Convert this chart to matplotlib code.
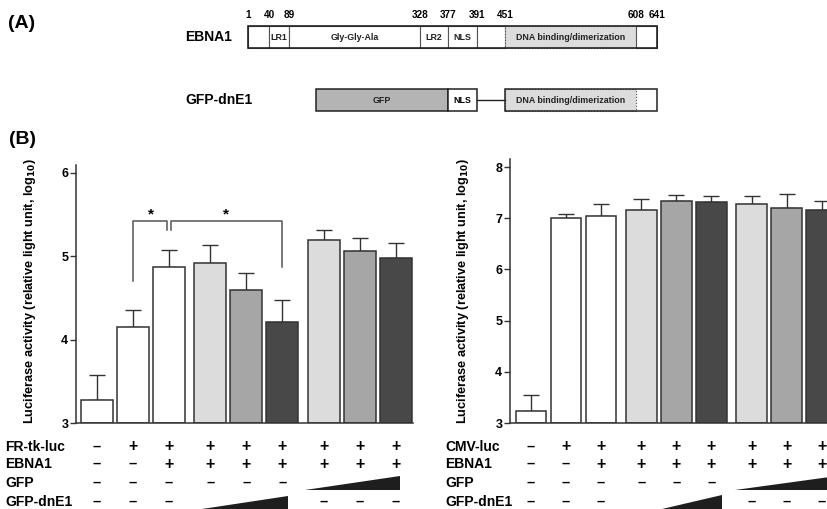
import matplotlib
matplotlib.use("Agg")
import matplotlib.pyplot as plt
import matplotlib.transforms as mtransforms
from matplotlib.patches import Rectangle, Polygon

plt.rcParams['font.family'] = ['Liberation Sans', 'DejaVu Sans']
plt.rcParams['font.weight'] = 'bold'

# ---------------- data ----------------
ebna1_bounds = [1, 40, 89, 328, 377, 391, 451, 608, 641]
ebna1_domains = ["", "LR1", "Gly-Gly-Ala", "LR2", "NLS", "", "DNA binding/dimerization", ""]
# schematic (not to scale) x-positions of the domain boundaries, in pixels
ebna1_draw_x = [248, 269, 289, 420, 448, 477, 505, 636, 657]
dne1_gfp_start_x = 316

left_values = [3.27, 4.15, 4.87, 4.92, 4.60, 4.21, 5.19, 5.06, 4.98]
left_errors = [0.30, 0.21, 0.20, 0.21, 0.20, 0.26, 0.13, 0.16, 0.18]
right_values = [3.24, 7.00, 7.05, 7.16, 7.34, 7.31, 7.28, 7.21, 7.16]
right_errors = [0.31, 0.08, 0.22, 0.21, 0.11, 0.12, 0.15, 0.26, 0.18]

row_names_left = ["FR-tk-luc", "EBNA1", "GFP", "GFP-dnE1"]
row_names_right = ["CMV-luc", "EBNA1", "GFP", "GFP-dnE1"]
reporter = ["-", "+", "+", "+", "+", "+", "+", "+", "+"]
ebna1 = ["-", "-", "+", "+", "+", "+", "+", "+", "+"]
gfp = ["-", "-", "-", "-", "-", "-", "w", "w", "w"]
gfp_dne1 = ["-", "-", "-", "w", "w", "w", "-", "-", "-"]

WHITE, LIGHT, MID, DARK = "#ffffff", "#dcdcdc", "#a6a6a6", "#484848"
bar_colors = [WHITE, WHITE, WHITE, LIGHT, MID, DARK, LIGHT, MID, DARK]

# x positions: 3 groups of 3 with a small extra gap
positions = [i + 0.15 * (i // 3) for i in range(9)]

W, H = 827, 509
fig = plt.figure(figsize=(W / 100, H / 100), dpi=100)


def fx(px):
    return px / W


def fy(py):
    return 1 - py / H


# ---------------- panel A (schematic) ----------------
axd = fig.add_axes([0, 0, 1, 1], zorder=0)
axd.set_xlim(0, W)
axd.set_ylim(H, 0)
axd.axis("off")

fig.text(fx(22), fy(24), "(A)", fontsize=14, fontweight="bold", ha="center", va="center")
fig.text(fx(22), fy(140), "(B)", fontsize=14, fontweight="bold", ha="center", va="center")

fig.text(fx(232), fy(37), "EBNA1", fontsize=10, fontweight="bold", ha="right", va="center")
fig.text(fx(253), fy(100), "GFP-dnE1", fontsize=10, fontweight="bold", ha="right", va="center")

y0, y1 = 26, 48
for i, name in enumerate(ebna1_domains):
    xa, xb = ebna1_draw_x[i], ebna1_draw_x[i + 1]
    fc = LIGHT if "DNA" in name else "white"
    ls = ":" if "DNA" in name else "-"
    axd.add_patch(Rectangle((xa, y0), xb - xa, y1 - y0, facecolor=fc,
                            edgecolor="#555555", lw=0.8, ls=ls))
    if name:
        axd.text((xa + xb) / 2, (y0 + y1) / 2, name, fontsize=6.4,
                 ha="center", va="center", fontweight="bold", color="#222222")
axd.add_patch(Rectangle((ebna1_draw_x[0], y0), ebna1_draw_x[-1] - ebna1_draw_x[0],
                        y1 - y0, fill=False, edgecolor="#222222", lw=1.2))
for b, x in zip(ebna1_bounds, ebna1_draw_x):
    axd.text(x, 15, str(b), fontsize=7.2, ha="center", va="center", fontweight="bold")

# GFP-dnE1 construct
g0, g1 = 89, 111
gm = (g0 + g1) / 2
axd.add_patch(Rectangle((dne1_gfp_start_x, g0), ebna1_draw_x[4] - dne1_gfp_start_x,
                        g1 - g0, facecolor="#b4b4b4", edgecolor="#222222", lw=1.1))
axd.text((dne1_gfp_start_x + ebna1_draw_x[4]) / 2, gm, "GFP", fontsize=6.4,
         ha="center", va="center", fontweight="bold", color="#222222")
axd.add_patch(Rectangle((ebna1_draw_x[4], g0), ebna1_draw_x[5] - ebna1_draw_x[4],
                        g1 - g0, facecolor="white", edgecolor="#222222", lw=1.1))
axd.text((ebna1_draw_x[4] + ebna1_draw_x[5]) / 2, gm, "NLS", fontsize=6.4,
         ha="center", va="center", fontweight="bold")
axd.plot([ebna1_draw_x[5], ebna1_draw_x[6]], [gm, gm], color="#222222", lw=1)
axd.add_patch(Rectangle((ebna1_draw_x[6], g0), ebna1_draw_x[7] - ebna1_draw_x[6],
                        g1 - g0, facecolor=LIGHT, edgecolor="#555555", lw=0.8, ls=":"))
axd.text((ebna1_draw_x[6] + ebna1_draw_x[7]) / 2, gm, "DNA binding/dimerization",
         fontsize=6.4, ha="center", va="center", fontweight="bold", color="#222222")
axd.add_patch(Rectangle((ebna1_draw_x[6], g0), ebna1_draw_x[8] - ebna1_draw_x[6],
                        g1 - g0, fill=False, edgecolor="#222222", lw=1.1))

# ---------------- panel B ----------------
ylabel = "Luciferase activity (relative light unit, log$_{\\mathbf{10}}$)"


def bar_panel(rect, values, errors, ylim, yticks, xlim, row_names, wedges,
              ylabel_x):
    ax = fig.add_axes(rect, zorder=1)
    ax.bar(positions, [v - ylim[0] for v in values], bottom=ylim[0], width=0.88,
           color=bar_colors, edgecolor="#333333", linewidth=1.1, zorder=2)
    ax.errorbar(positions, values, yerr=[[0] * len(errors), errors], fmt="none",
                ecolor="#333333", elinewidth=1.0, capsize=6, capthick=1.0, zorder=1)
    ax.set_ylim(*ylim)
    ax.set_xlim(*xlim)
    ax.set_yticks(yticks)
    ax.set_yticklabels([str(t) for t in yticks], fontsize=9, fontweight="bold")
    ax.set_xticks([])
    for s in ["top", "right"]:
        ax.spines[s].set_visible(False)
    for s in ["left", "bottom"]:
        ax.spines[s].set_color("#333333")
        ax.spines[s].set_linewidth(1.1)
    ax.spines["left"].set_bounds(ylim[0], yticks[-1] + 0.03 * (ylim[1] - ylim[0]))
    ax.tick_params(axis="y", length=4, width=1, pad=1.5, color="#333333")
    ax.set_facecolor("none")

    trans = mtransforms.blended_transform_factory(ax.transData, fig.transFigure)
    row_y = [fy(447), fy(464), fy(483), fy(502)]
    rows = [reporter, ebna1, gfp, gfp_dne1]
    for r, (name, row) in enumerate(zip(row_names, rows)):
        fig.text(fx(ylabel_x[1]), row_y[r], name, fontsize=10, fontweight="bold",
                 ha="left", va="center")
        for p, sym in zip(positions, row):
            if sym == "+":
                ax.text(p, row_y[r], "+", transform=trans, fontsize=11.5,
                        fontweight="bold", ha="center", va="center", clip_on=False)
            elif sym == "-":
                ax.text(p, row_y[r], "\u2013", transform=trans, fontsize=10.5,
                        fontweight="bold", ha="center", va="center", clip_on=False)
    for (r, xa, xb, hgt) in wedges:
        yb = row_y[r] - 7 / H
        poly = Polygon([(xa, yb), (xb, yb), (xb, yb + hgt / H)], closed=True,
                       transform=trans, facecolor="#1e1e1e", edgecolor="none",
                       clip_on=False)
        ax.add_patch(poly)
    fig.text(fx(ylabel_x[0]), fy(291), ylabel, rotation=90, fontsize=9.2,
             fontweight="bold", ha="center", va="center")
    return ax


# left panel: px 76..413, y=3 at 423, y=6 at 173
axL = bar_panel([fx(76), fy(423), fx(413) - fx(76), (423 - 164.6) / H],
                left_values, left_errors, (3, 6.1), [3, 4, 5, 6],
                (-0.58, 8.78), row_names_left,
                [(3, positions[3] - 0.23, positions[5] + 0.15, 13),
                 (2, positions[6] - 0.52, positions[8] + 0.12, 14)],
                (30, 5))

# right panel: px 510..837, y=3 at 423, y=8 at 167
axR = bar_panel([fx(510), fy(423), fx(837) - fx(510), (423 - 162) / H],
                right_values, right_errors, (3, 8.1), [3, 4, 5, 6, 7, 8],
                (-0.6, 8.74), row_names_right,
                [(3, positions[3] + 0.59, positions[5] + 0.31, 14),
                 (2, positions[6] - 0.47, positions[8] + 0.45, 14)],
                (463, 445))

# significance brackets (left panel)
bc = "#555555"
axL.plot([positions[1], positions[1], positions[2] - 0.05, positions[2] - 0.05],
         [4.70, 5.42, 5.42, 5.32], color=bc, lw=1.1, clip_on=False)
axL.plot([positions[2] + 0.05, positions[2] + 0.05, positions[5], positions[5]],
         [5.32, 5.42, 5.42, 4.87], color=bc, lw=1.1, clip_on=False)
axL.text((positions[1] + positions[2]) / 2, 5.50, "*", fontsize=11,
         fontweight="bold", ha="center", va="center")
axL.text((positions[2] + positions[5]) / 2, 5.50, "*", fontsize=11,
         fontweight="bold", ha="center", va="center")

fig.savefig("out.png", dpi=100)
